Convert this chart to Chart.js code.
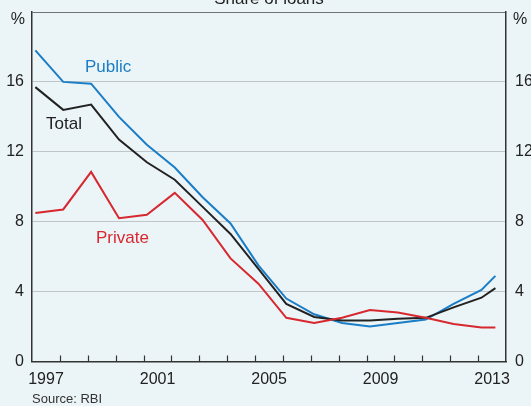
<!DOCTYPE html>
<html>
<head>
<meta charset="utf-8">
<script src="https://cdn.jsdelivr.net/npm/chart.js@4.4.1/dist/chart.umd.min.js"></script>
<style>
  html, body { margin: 0; padding: 0; background: #ebf4f7; }
  canvas { display: block; }
</style>
</head>
<body>
<canvas id="loansChart" width="531" height="406"></canvas>
<script>
// end-of-March readings each year, last one is September 2013
const dates = [1997.12, 1998.12, 1999.12, 2000.12, 2001.12, 2002.12, 2003.12, 2004.12, 2005.12,
  2006.12, 2007.12, 2008.12, 2009.12, 2010.12, 2011.12, 2012.12, 2013.12, 2013.62];
const publicShare = [17.8, 16.0, 15.9, 14.0, 12.4, 11.1, 9.4, 7.9, 5.5,
  3.6, 2.7, 2.2, 2.0, 2.2, 2.4, 3.3, 4.1, 4.9];
const totalShare = [15.7, 14.4, 14.7, 12.7, 11.4, 10.4, 8.85, 7.3, 5.3,
  3.3, 2.55, 2.35, 2.35, 2.45, 2.5, 3.1, 3.65, 4.2];
const privateShare = [8.5, 8.7, 10.85, 8.2, 8.4, 9.65, 8.1, 5.9, 4.45,
  2.5, 2.2, 2.5, 2.95, 2.8, 2.5, 2.15, 1.95, 1.95];
const yearLabels = [1997, 2001, 2005, 2009, 2013];

const FONT = "'Liberation Sans', Arial, sans-serif";

function toPoints(values) {
  return values.map((v, i) => ({ x: dates[i], y: v }));
}

// keep the plot box where it is in the original, whatever the labels want
function noPadding(scale) {
  scale.paddingTop = 0;
  scale.paddingBottom = 0;
  scale.paddingLeft = 0;
  scale.paddingRight = 0;
}

// title, series names, % units, source and the inward x ticks
const extras = {
  id: "extras",
  beforeDatasetsDraw(chart) {
    const { ctx, chartArea, scales } = chart;
    ctx.save();
    ctx.strokeStyle = "#333";
    ctx.lineWidth = 1.2;
    for (let yr = 1998; yr <= 2013; yr++) {
      const px = Math.round(scales.x.getPixelForValue(yr)) + 0.5;
      ctx.beginPath();
      ctx.moveTo(px, chartArea.bottom);
      ctx.lineTo(px, chartArea.bottom - 6);
      ctx.stroke();
    }
    ctx.restore();
  },
  afterDraw(chart) {
    const { ctx, chartArea } = chart;
    ctx.save();
    ctx.textBaseline = "alphabetic";

    ctx.font = "17px " + FONT;
    ctx.fillStyle = "#222";
    ctx.textAlign = "center";
    ctx.fillText("Share of loans", (chartArea.left + chartArea.right) / 2, 3.5);

    ctx.font = "16px " + FONT;
    ctx.textAlign = "right";
    ctx.fillText("%", 25, 24);
    ctx.textAlign = "left";
    ctx.fillText("%", 513, 24);

    ctx.font = "17px " + FONT;
    ctx.fillStyle = "#1a7dc5";
    ctx.fillText("Public", 85, 71.5);
    ctx.fillStyle = "#222";
    ctx.fillText("Total", 46, 129.3);
    ctx.fillStyle = "#d7282f";
    ctx.fillText("Private", 96, 242.7);

    ctx.font = "13px " + FONT;
    ctx.fillStyle = "#333";
    ctx.fillText("Source: RBI", 32, 403);
    ctx.restore();
  }
};

new Chart(document.getElementById("loansChart"), {
  type: "line",
  data: {
    datasets: [
      {
        label: "Private",
        data: toPoints(privateShare),
        borderColor: "#d7282f",
        borderWidth: 2,
        pointRadius: 0
      },
      {
        label: "Total",
        data: toPoints(totalShare),
        borderColor: "#222222",
        borderWidth: 2,
        pointRadius: 0
      },
      {
        label: "Public",
        data: toPoints(publicShare),
        borderColor: "#1a7dc5",
        borderWidth: 2,
        pointRadius: 0
      }
    ]
  },
  options: {
    responsive: false,
    animation: false,
    layout: { padding: { top: 12, left: 0, right: 0, bottom: 0 } },
    plugins: {
      legend: { display: false },
      tooltip: { enabled: false }
    },
    scales: {
      x: {
        type: "linear",
        min: 1997,
        max: 2014,
        afterFit(scale) { scale.height = 44.5; noPadding(scale); },
        grid: { drawOnChartArea: false, drawTicks: false },
        border: { color: "#333", width: 1.5 },
        ticks: {
          stepSize: 1,
          autoSkip: false,
          maxRotation: 0,
          padding: 8,
          labelOffset: 14,
          color: "#222",
          font: { family: FONT, size: 16 },
          callback: v => (yearLabels.includes(v) ? String(v) : "")
        }
      },
      y: {
        position: "left",
        min: 0,
        max: 20,
        afterFit(scale) { scale.width = 32; noPadding(scale); },
        grid: {
          drawTicks: false,
          lineWidth: 1,
          color: c => {
            if (c.tick.value === 0) return "rgba(0,0,0,0)";
            if (c.tick.value === 20) return "#6f7376";
            return "#bfc5c8";
          }
        },
        border: { color: "#333", width: 1.5 },
        ticks: {
          stepSize: 4,
          padding: 8,
          color: "#222",
          font: { family: FONT, size: 16 },
          callback: v => (v === 20 ? "" : String(v))
        }
      },
      y2: {
        position: "right",
        min: 0,
        max: 20,
        afterFit(scale) { scale.width = 25; noPadding(scale); },
        grid: { drawOnChartArea: false, drawTicks: false },
        border: { color: "#333", width: 1.5 },
        ticks: {
          stepSize: 4,
          padding: 9,
          color: "#222",
          font: { family: FONT, size: 16 },
          callback: v => (v === 20 ? "" : String(v))
        }
      }
    }
  },
  plugins: [extras]
});
</script>
</body>
</html>
